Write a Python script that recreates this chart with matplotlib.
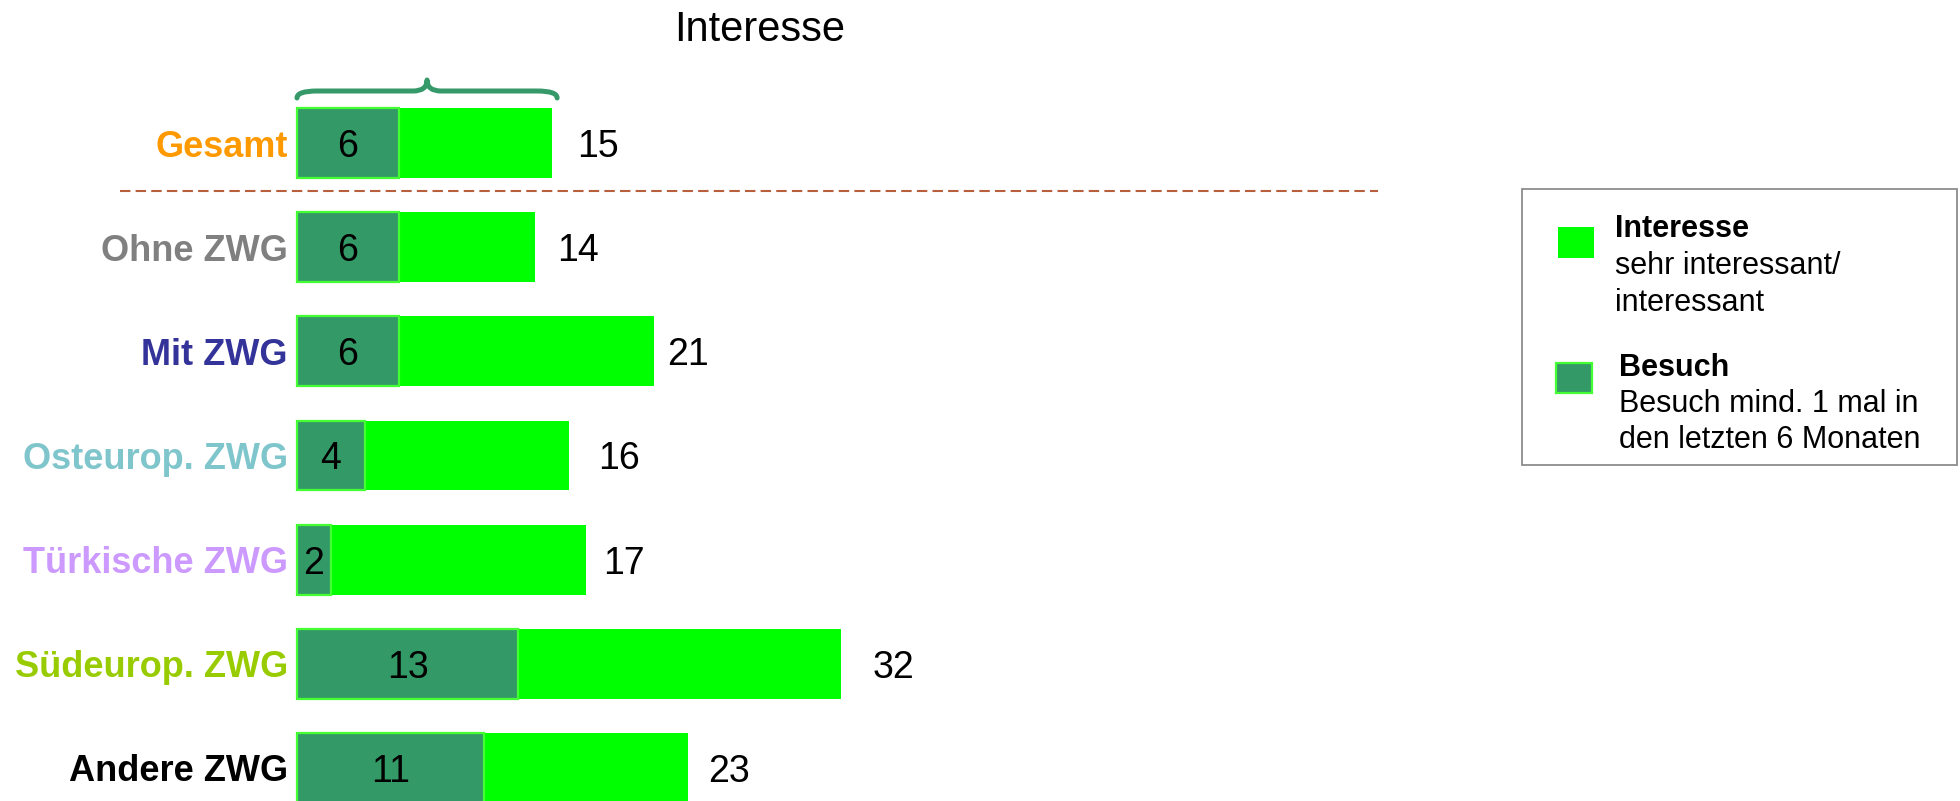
import matplotlib.pyplot as plt
from matplotlib.patches import Rectangle, PathPatch
from matplotlib.path import Path

plt.rcParams['font.family'] = ['Liberation Sans', 'DejaVu Sans']

# Daten
gruppen = ['Gesamt', 'Ohne ZWG', 'Mit ZWG', 'Osteurop. ZWG',
           'Türkische ZWG', 'Südeurop. ZWG', 'Andere ZWG']
interesse = [15, 14, 21, 16, 17, 32, 23]
besuch = [6, 6, 6, 4, 2, 13, 11]
farben_gruppen = ['#ff9900', '#808080', '#333399', '#7fc5cc',
                  '#cc99ff', '#99cc00', '#000000']
# Abstand Balkenende -> Zahl (in Prozentpunkten)
abstand_zahl = [1.47, 1.29, 0.76, 1.71, 1.0, 1.88, 1.18]

HELLGRUEN = '#00ff00'
DUNKELGRUEN = '#339966'
RAND = '#44ff33'

W, H = 1960, 801
fig = plt.figure(figsize=(W / 100, H / 100), dpi=100)
ax = fig.add_axes([0, 0, 1, 1])
ax.set_xlim(-17.47, 97.82)
ax.set_ylim(6.317, -1.373)
ax.axis('off')


def fx(px):
    return px / W


def fy(py):
    return 1 - py / H


pos = list(range(len(gruppen)))

ax.barh(pos, interesse, height=0.67, color=HELLGRUEN, linewidth=0)
ax.barh(pos, besuch, height=0.67, color=DUNKELGRUEN, edgecolor=RAND,
        linewidth=1.6)

for i in pos:
    ax.text(-0.53, i, gruppen[i], ha='right', va='center_baseline',
            fontsize=26, fontweight='bold', color=farben_gruppen[i])
    ax.text(besuch[i] / 2, i, str(besuch[i]), ha='center',
            va='center_baseline', fontsize=27, color='black')
    ax.text(interesse[i] + abstand_zahl[i], i, str(interesse[i]),
            ha='left', va='center_baseline', fontsize=27, color='black')

# Trennlinie zwischen Gesamt und Gruppen
ax.plot([-10.4, 63.6], [0.46, 0.46], color='#b8603e', lw=1.5,
        linestyle=(0, (5, 2.5)), clip_on=False)

# geschweifte Klammer über dem Gesamt-Balken
x0 = ax.transData.transform((0, 0))[0]
x1 = ax.transData.transform((interesse[0] + 0.3, 0))[0]
xm = (x0 + x1) / 2
y_end, y_mid, y_tip = 98, 91, 80
pts = [(x0, y_end), (x0, y_mid), (x0 + 20, y_mid),
       (xm - 14, y_mid),
       (xm, y_mid), (xm, y_tip),
       (xm, y_mid), (xm + 14, y_mid),
       (x1 - 20, y_mid),
       (x1, y_mid), (x1, y_end)]
codes = [Path.MOVETO, Path.CURVE3, Path.CURVE3, Path.LINETO,
         Path.CURVE3, Path.CURVE3, Path.CURVE3, Path.CURVE3,
         Path.LINETO, Path.CURVE3, Path.CURVE3]
klammer = Path([(fx(x), fy(y)) for x, y in pts], codes)
fig.add_artist(PathPatch(klammer, facecolor='none', edgecolor='#35996a',
                         lw=3.6, transform=fig.transFigure,
                         capstyle='round', joinstyle='round'))

fig.text(fx(760), fy(41), 'Interesse', ha='center', va='baseline',
         fontsize=30)

# Legende
fig.add_artist(Rectangle((fx(1522), fy(465)), fx(1957 - 1522),
                         (465 - 189) / H, transform=fig.transFigure,
                         facecolor='white', edgecolor='#8c8c8c', lw=1.3))
fig.add_artist(Rectangle((fx(1558), fy(258)), fx(36), 31 / H,
                         transform=fig.transFigure, facecolor=HELLGRUEN,
                         linewidth=0))
fig.add_artist(Rectangle((fx(1556), fy(393)), fx(36), 30 / H,
                         transform=fig.transFigure, facecolor=DUNKELGRUEN,
                         edgecolor=RAND, lw=1.6))

legende = [
    (1615, 237, 'Interesse', 'bold'),
    (1615, 274, 'sehr interessant/', 'normal'),
    (1615, 311, 'interessant', 'normal'),
    (1619, 376, 'Besuch', 'bold'),
    (1619, 412, 'Besuch mind. 1 mal in', 'normal'),
    (1619, 448, 'den letzten 6 Monaten', 'normal'),
]
for x, y, txt, gewicht in legende:
    fig.text(fx(x), fy(y), txt, ha='left', va='baseline', fontsize=22,
             fontweight=gewicht)

fig.savefig('out.png', dpi=100)
